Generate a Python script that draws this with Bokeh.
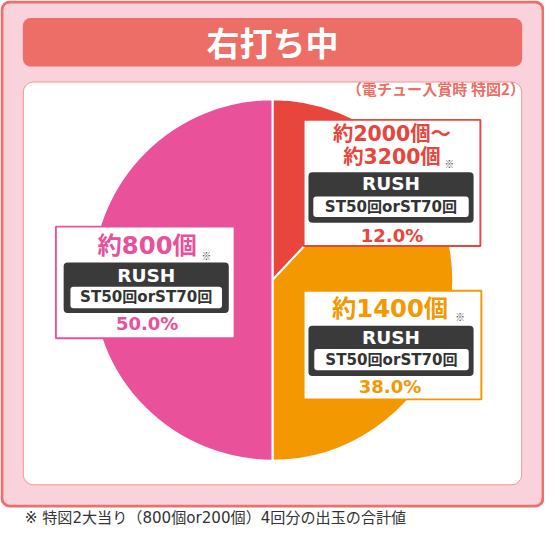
import numpy as np
from bokeh.plotting import figure
from bokeh.models import Range1d
from bokeh.core.properties import value
from bokeh.embed import file_html
from bokeh.resources import INLINE

# ---- data ----
title_text = "右打ち中"
subtitle_text = "（電チュー入賞時 特図2）"
footnote_text = "※ 特図2大当り（800個or200個）4回分の出玉の合計値"
category_lines = [["約2000個～", "約3200個"], ["約1400個"], ["約800個"]]
shares = [12.0, 38.0, 50.0]
mode_labels = ["RUSH", "RUSH", "RUSH"]
st_labels = ["ST50回orST70回", "ST50回orST70回", "ST50回orST70回"]
note_mark = "※"
colors = ["#e8453c", "#f39800", "#e9519a"]

# ---- layout ----
W, H = 560, 543
PW, PH = 544, 527
S = PW / W
FONT_JP = "Noto Sans CJK JP"
FONT_MIX = "DejaVu Sans, Noto Sans CJK JP"


def Y(v):
    return H - v


p = figure(width=PW, height=PH, x_range=Range1d(0, W), y_range=Range1d(0, H),
           output_backend="svg", toolbar_location=None, min_border=0,
           x_axis_type=None, y_axis_type=None, outline_line_color=None,
           background_fill_color="white", border_fill_color="white")
p.grid.visible = False


def txt(x, y, s, size, color, align="center", style="bold", font=FONT_MIX):
    p.text(x=[x], y=[Y(y)], text=[s], text_font=value(font),
           text_font_size=f"{size * S:.1f}px", text_color=color,
           text_align=align, text_baseline="middle", text_font_style=style)


def box(l, t, r, b, fill, line=None, lw=1, radius=0):
    p.quad(left=[l], right=[r], top=[Y(t)], bottom=[Y(b)], fill_color=fill,
           line_color=line, line_width=lw, border_radius=radius)


# outer panel
box(1.5, 1.5, 558.5, 521, "#f9d2dc", "#ee706a", 3 * S, 8)
# header bar
box(23, 18, 537, 68, "#ec6e66", None, 1, 8)
txt(280, 43, title_text, 34, "white", font=FONT_JP)
# inner panel
box(23.5, 84, 536.5, 499, "white", "#f3968f", 1, 10)
txt(540, 90, subtitle_text, 15.5, "#ec6e66", align="right", font=FONT_JP)

# pie
cx, cy, R = 280, 288, 186
fr = np.array(shares) / sum(shares)
cum = np.concatenate([[0], np.cumsum(fr)])
start = np.pi / 2 - cum[1:] * 2 * np.pi
end = np.pi / 2 - cum[:-1] * 2 * np.pi
p.wedge(x=[cx] * len(shares), y=[Y(cy)] * len(shares), radius=R,
        start_angle=start, end_angle=end, fill_color=colors,
        line_color="white", line_width=2)

# label boxes (layout per category)
layouts = [
    dict(box=(312, 123, 494, 253), cx=403, lines=[138, 161], size=21, note=(462, 168),
         dark=(317, 177, 487, 229), rush=189, inner=(322, 202, 482, 223), st=212.5, pct=242),
    dict(box=(312, 299, 495, 411), cx=401, lines=[317], size=25, note=(473, 326),
         dark=(317, 335, 487, 387), rush=347, inner=(323, 359, 482, 381), st=370, pct=398),
    dict(box=(57, 233, 241, 348), cx=151, lines=[252], size=25, note=(212, 263),
         dark=(65, 270, 235, 322), rush=283, inner=(72, 295, 228, 317), st=306, pct=333),
]

for i, L in enumerate(layouts):
    col = colors[i]
    l, t, r, b = L["box"]
    box(l, t, r, b, "white", col, 2 * S, 0)
    for ln, yy in zip(category_lines[i], L["lines"]):
        txt(L["cx"], yy, ln, L["size"], col)
    nx, ny = L["note"]
    txt(nx, ny, note_mark, 10, "#444444", font=FONT_JP)
    l, t, r, b = L["dark"]
    box(l, t, r, b, "#3a3a3a", None, 1, 4)
    txt((l + r) / 2, L["rush"], mode_labels[i], 19, "white")
    l, t, r, b = L["inner"]
    box(l, t, r, b, "white", None, 1, 3)
    txt((l + r) / 2, L["st"], st_labels[i], 15.5, "#333333")
    txt(L["cx"], L["pct"], f"{shares[i]:.1f}%", 18.5, col)

# footnote
txt(25, 533, footnote_text, 15.5, "#333333", align="left", style="normal")

open("out.html", "w").write(file_html(p, INLINE))
